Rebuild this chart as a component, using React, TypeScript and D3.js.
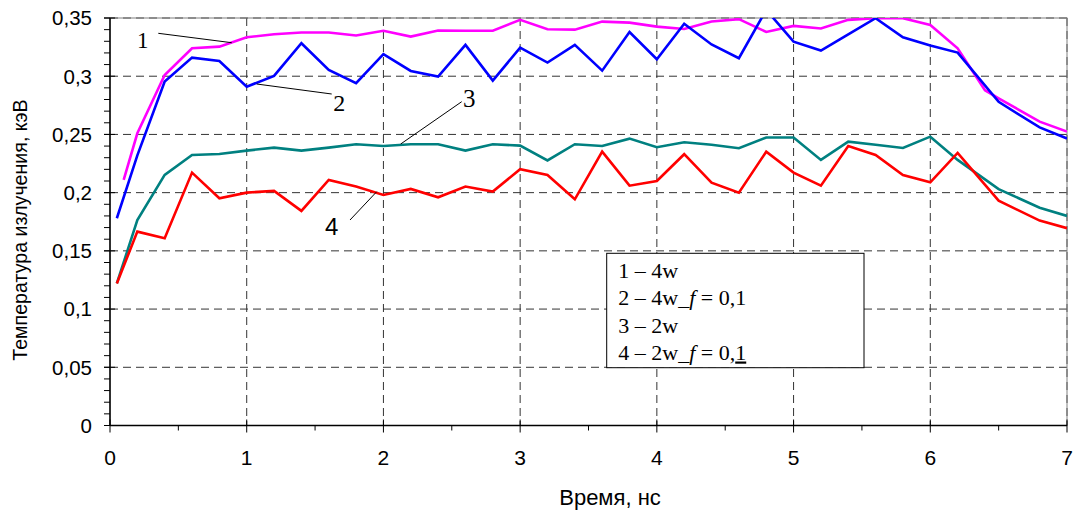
import React from "react";
import * as d3 from "d3";

const xCommon = [0.05, 0.2, 0.4, 0.6, 0.8, 1.0, 1.2, 1.4, 1.6, 1.8, 2.0, 2.2, 2.4, 2.6, 2.8, 3.0, 3.2, 3.4, 3.6, 3.8, 4.0, 4.2, 4.4, 4.6, 4.8, 5.0, 5.2, 5.4, 5.6, 5.8, 6.0, 6.2, 6.5, 6.8, 7.0];
const xPink = [0.1, 0.2, 0.4, 0.6, 0.8, 1.0, 1.2, 1.4, 1.6, 1.8, 2.0, 2.2, 2.4, 2.6, 2.8, 3.0, 3.2, 3.4, 3.6, 3.8, 4.0, 4.2, 4.4, 4.6, 4.8, 5.0, 5.2, 5.4, 5.6, 5.8, 6.0, 6.2, 6.4, 6.5, 6.8, 7.0];

const series1 = [0.211, 0.251, 0.301, 0.324, 0.3254, 0.3335, 0.336, 0.3375, 0.3375, 0.335, 0.339, 0.334, 0.3392, 0.339, 0.339, 0.3484, 0.3404, 0.34, 0.3469, 0.346, 0.3426, 0.3406, 0.347, 0.349, 0.338, 0.3432, 0.341, 0.3484, 0.3498, 0.3498, 0.344, 0.324, 0.288, 0.281, 0.261, 0.2525];
const series2 = [0.178, 0.232, 0.2954, 0.316, 0.3131, 0.291, 0.3003, 0.3283, 0.3054, 0.294, 0.319, 0.3045, 0.2997, 0.3269, 0.2962, 0.3246, 0.3117, 0.3269, 0.3048, 0.338, 0.3146, 0.345, 0.3273, 0.3155, 0.357, 0.3297, 0.322, 0.336, 0.3498, 0.3335, 0.3263, 0.3203, 0.278, 0.256, 0.2465];
const series3 = [0.122, 0.1765, 0.2152, 0.2324, 0.2332, 0.2361, 0.2387, 0.2361, 0.2387, 0.2416, 0.2401, 0.2416, 0.2416, 0.2361, 0.2416, 0.2404, 0.2277, 0.2416, 0.2401, 0.2464, 0.239, 0.2433, 0.2412, 0.2381, 0.2473, 0.2473, 0.2281, 0.2438, 0.2412, 0.2384, 0.2481, 0.2281, 0.203, 0.187, 0.18];
const series4 = [0.122, 0.1665, 0.1608, 0.2172, 0.1952, 0.2, 0.2015, 0.1843, 0.2109, 0.2052, 0.198, 0.2032, 0.196, 0.2052, 0.2009, 0.2201, 0.2152, 0.1943, 0.2352, 0.206, 0.21, 0.233, 0.2086, 0.2, 0.2352, 0.2172, 0.206, 0.2401, 0.2324, 0.2152, 0.2089, 0.2341, 0.1931, 0.176, 0.1695];

const xTicks = [0, 1, 2, 3, 4, 5, 6, 7];
const yTicks = [0, 0.05, 0.1, 0.15, 0.2, 0.25, 0.3, 0.35];
const yTickLabels = ["0", "0,05", "0,1", "0,15", "0,2", "0,25", "0,3", "0,35"];
const xTitle = "Время, нс";
const yTitle = "Температура излучения, кэВ";

const W = 1074, H = 514;
const L = 110, R = 1067, T = 18, B = 425.5;

export default function App() {
  const x = d3.scaleLinear().domain([0, 7]).range([L, R]);
  const y = d3.scaleLinear().domain([0, 0.35]).range([B, T]);
  const line = (xs: number[], ys: number[]) =>
    d3.line<number>().x((_, i) => x(xs[i])).y((d) => y(d))(ys) || "";

  const lines = [
    { xs: xPink, ys: series1, color: "#FF00FF" },
    { xs: xCommon, ys: series2, color: "#0000FF" },
    { xs: xCommon, ys: series3, color: "#008080" },
    { xs: xCommon, ys: series4, color: "#FF0000" },
  ];

  const minorY = d3.range(0, 36).map((i) => i * 0.01);
  const minorX = d3.range(0, 7).map((i) => i + 0.5);
  const sans = "'Liberation Sans', Arial, sans-serif";
  const serif = "'Liberation Serif', 'Times New Roman', serif";

  return (
    <svg width={W} height={H} style={{ position: "absolute", left: 0, top: 0, background: "#fff" }}>
      <defs>
        <clipPath id="plot">
          <rect x={L} y={T} width={R - L} height={B - T} />
        </clipPath>
      </defs>
      <rect x={0} y={0} width={W} height={H} fill="#fff" />
      {xTicks.slice(1).map((t) => (
        <line key={"gx" + t} x1={x(t)} x2={x(t)} y1={T} y2={B} stroke="#333" strokeWidth={1} strokeDasharray="8,5" />
      ))}
      {yTicks.slice(1).map((t) => (
        <line key={"gy" + t} x1={L} x2={R} y1={y(t)} y2={y(t)} stroke="#333" strokeWidth={1} strokeDasharray="8,5" />
      ))}
      <rect x={L} y={T} width={R - L} height={B - T} fill="none" stroke="#808080" strokeWidth={1} />
      <g clipPath="url(#plot)">
        {lines.map((s, i) => (
          <path key={i} d={line(s.xs, s.ys)} fill="none" stroke={s.color} strokeWidth={2.6} strokeLinejoin="miter" />
        ))}
      </g>
      <line x1={L} x2={L} y1={T} y2={B} stroke="#000" strokeWidth={1.5} />
      <line x1={L} x2={R} y1={B} y2={B} stroke="#000" strokeWidth={1.5} />
      {minorY.map((t, i) => (
        <line key={"my" + i} x1={L - 6} x2={L} y1={y(t)} y2={y(t)} stroke="#000" strokeWidth={1} />
      ))}
      {yTicks.map((t) => (
        <line key={"ty" + t} x1={L - 6} x2={L + 5} y1={y(t)} y2={y(t)} stroke="#000" strokeWidth={1} />
      ))}
      {minorX.map((t) => (
        <line key={"mx" + t} x1={x(t)} x2={x(t)} y1={B} y2={B + 5} stroke="#000" strokeWidth={1} />
      ))}
      {xTicks.map((t) => (
        <line key={"tx" + t} x1={x(t)} x2={x(t)} y1={B - 6} y2={B + 7} stroke="#000" strokeWidth={1} />
      ))}
      {yTicks.map((t, i) => (
        <text key={"ly" + t} x={92} y={y(t)} dy="0.36em" textAnchor="end" fontFamily={sans} fontSize={20.5} fill="#000">
          {yTickLabels[i]}
        </text>
      ))}
      {xTicks.map((t) => (
        <text key={"lx" + t} x={x(t)} y={465} textAnchor="middle" fontFamily={sans} fontSize={21} fill="#000">
          {String(t)}
        </text>
      ))}
      <text x={610} y={505} textAnchor="middle" fontFamily={sans} fontSize={22} fill="#000">{xTitle}</text>
      <text transform="translate(26.5,230) rotate(-90)" textAnchor="middle" fontFamily={sans} fontSize={19.6} fill="#000">{yTitle}</text>
      <line x1={158.3} y1={33.3} x2={231.7} y2={42.7} stroke="#000" strokeWidth={1} />
      <text x={142.7} y={48.3} textAnchor="middle" fontFamily={serif} fontSize={23} fill="#000">1</text>
      <line x1={256.7} y1={84} x2={331.7} y2={94} stroke="#000" strokeWidth={1} />
      <text x={339.3} y={110.7} textAnchor="middle" fontFamily={serif} fontSize={24} fill="#000">2</text>
      <line x1={400.7} y1={144} x2={461.7} y2={101.7} stroke="#000" strokeWidth={1} />
      <text x={469.3} y={106.7} textAnchor="middle" fontFamily={serif} fontSize={25} fill="#000">3</text>
      <line x1={350} y1={220} x2={376.7} y2={191.7} stroke="#000" strokeWidth={1} />
      <text x={331.7} y={235} textAnchor="middle" fontFamily={sans} fontSize={24} fill="#000">4</text>
      <rect x={606.7} y={253.3} width={257.3} height={114.4} fill="#fff" stroke="#000" strokeWidth={1} />
      <g fontFamily={serif} fontSize={22} fill="#000">
        <text x={618.3} y={277.5}>1 – 4w</text>
        <text x={618.3} y={305}>2 – 4w_<tspan fontStyle="italic">f</tspan> = 0,1</text>
        <text x={618.3} y={332.5}>3 – 2w</text>
        <text x={618.3} y={359.5}>4 – 2w_<tspan fontStyle="italic">f</tspan> = 0,<tspan style={{ textDecoration: "underline" }}>1</tspan></text>
      </g>
    </svg>
  );
}
